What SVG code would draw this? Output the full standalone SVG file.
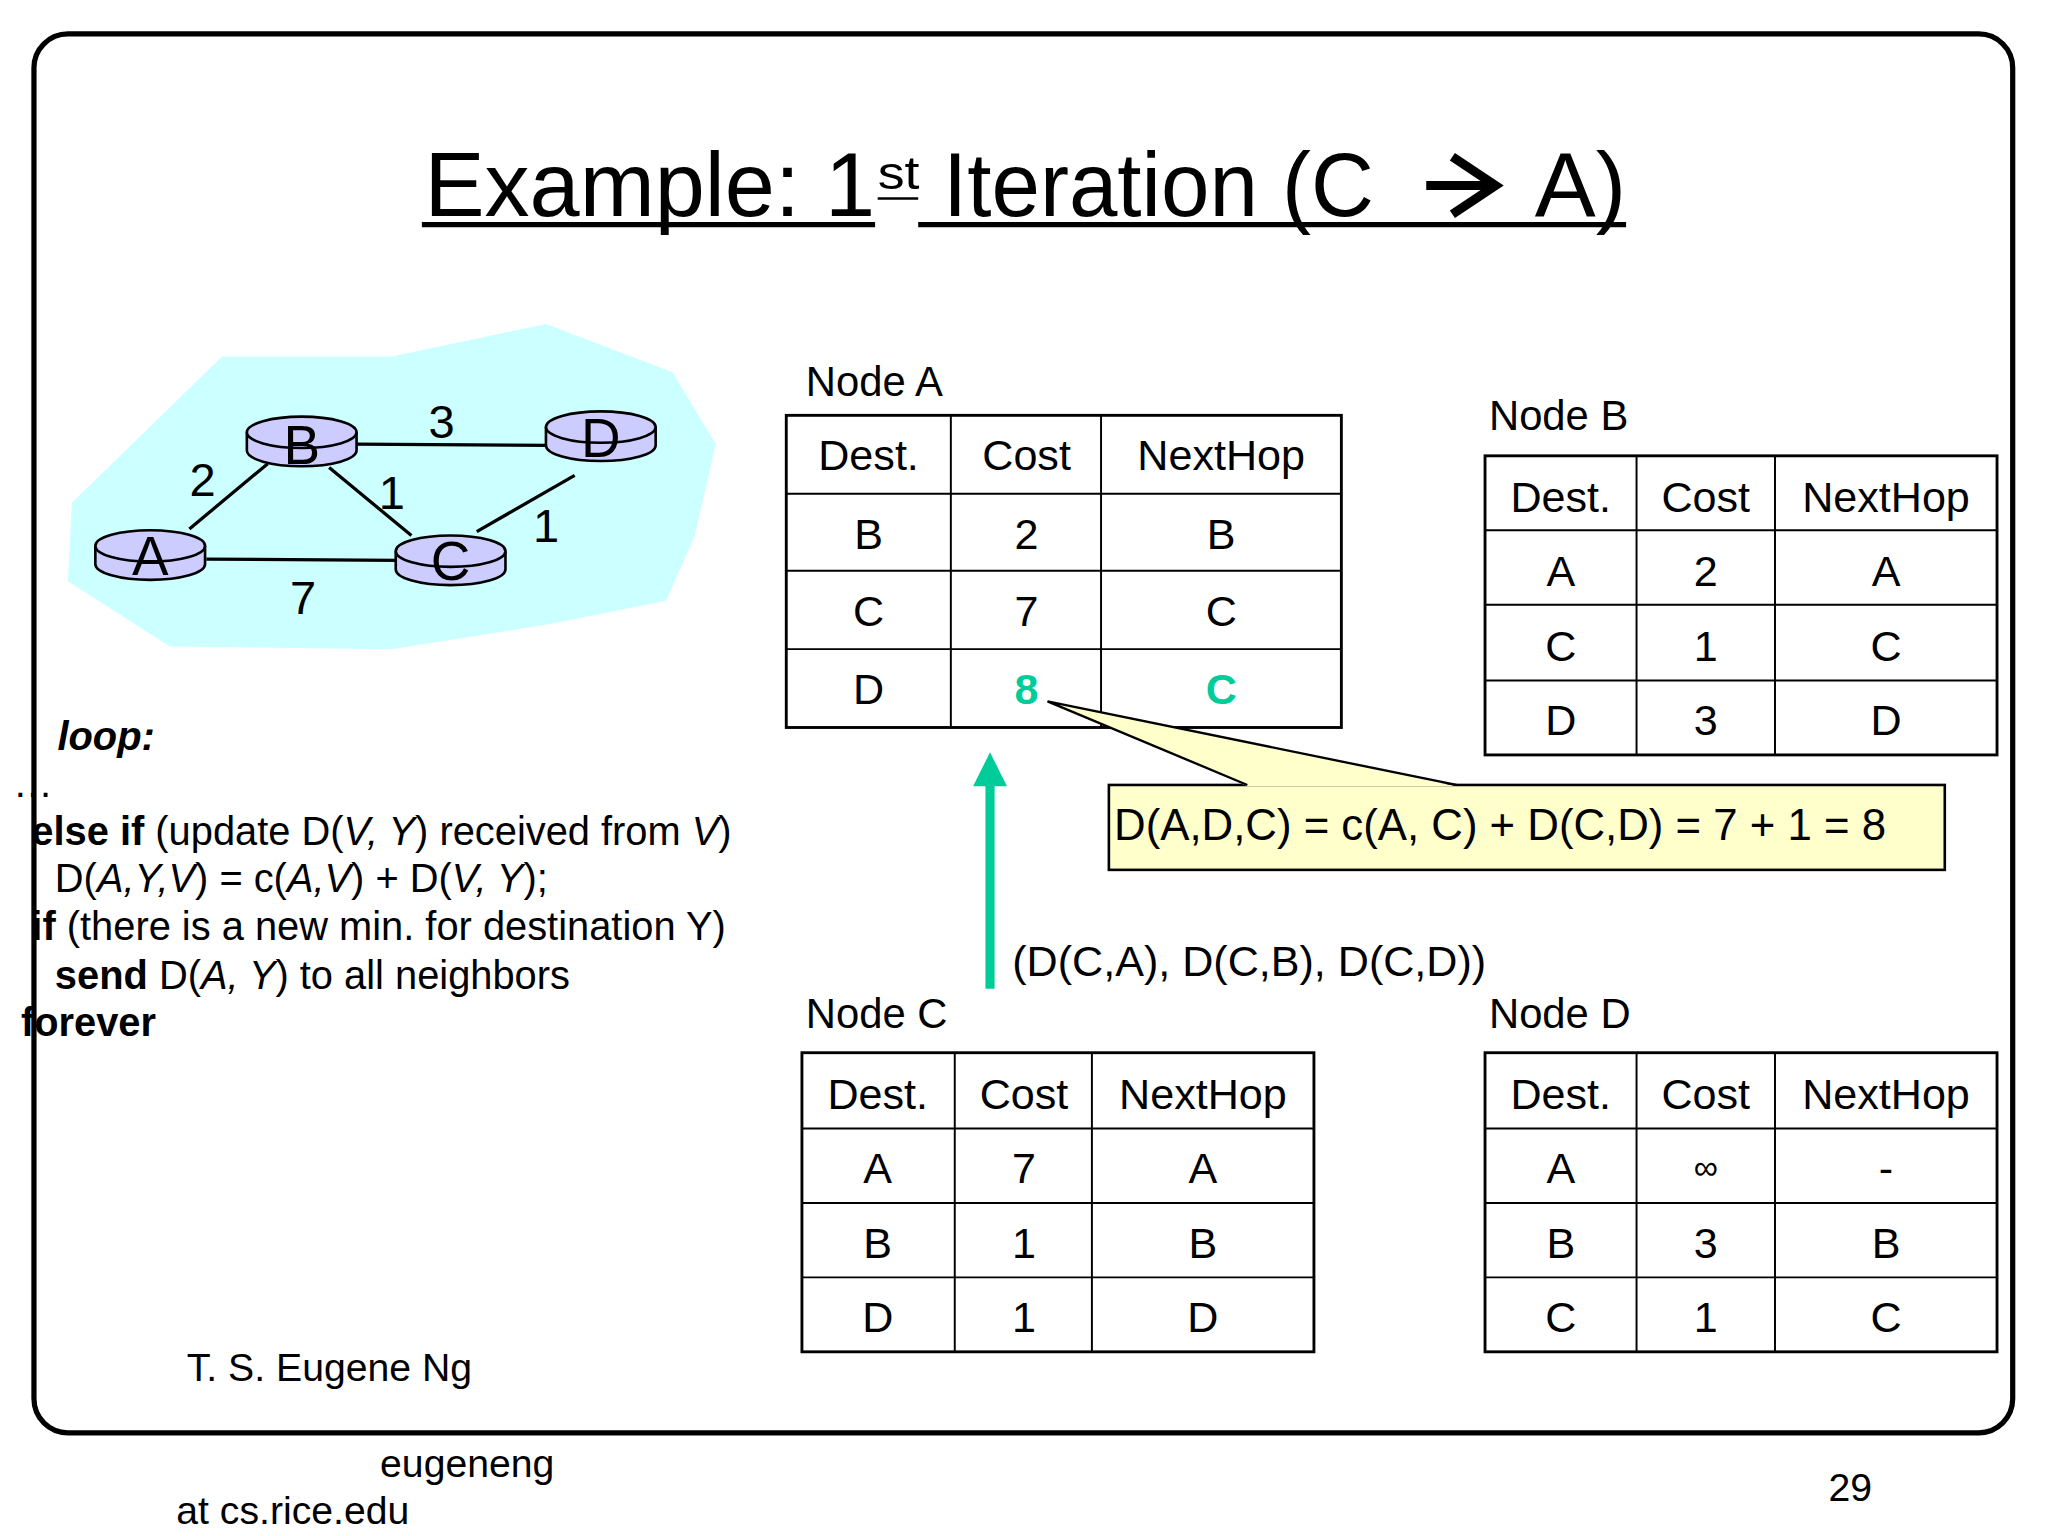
<svg xmlns="http://www.w3.org/2000/svg" width="2048" height="1536" viewBox="0 0 2048 1536">
<style>
text{font-family:"Liberation Sans",Arial,sans-serif;fill:#000}
.t{font-size:33px;text-anchor:middle}
.tb{fill:none;stroke:#000;stroke-width:2.2}
.ln{stroke:#000;stroke-width:1.5}
.e{stroke:#000;stroke-width:2.5}
.rt{fill:#ccccff;stroke:#000;stroke-width:2}
.code{font-size:30.5px}
</style>
<rect width="2048" height="1536" fill="#fff"/>
<g transform="scale(1.3061)">
<rect x="26" y="26" width="1515" height="1071" rx="26" fill="none" stroke="#000" stroke-width="4"/>
<g id="title">
<text x="325" y="165" font-size="70" textLength="345" lengthAdjust="spacingAndGlyphs">Example: 1</text>
<text x="672" y="145" font-size="36" textLength="32" lengthAdjust="spacingAndGlyphs">st</text>
<text x="722" y="165" font-size="70" textLength="330" lengthAdjust="spacingAndGlyphs">Iteration (C</text>
<text x="1175" y="165" font-size="70" textLength="70" lengthAdjust="spacingAndGlyphs">A)</text>
<path d="M1112 120 L1145 142 L1112 164 M1092 142 L1142 142" fill="none" stroke="#000" stroke-width="7"/>
<line x1="323" y1="172" x2="670" y2="172" stroke="#000" stroke-width="4"/>
<line x1="672" y1="152" x2="703" y2="152" stroke="#000" stroke-width="2"/>
<line x1="703" y1="172" x2="1245" y2="172" stroke="#000" stroke-width="4"/>
</g>
<g id="network">
<polygon points="170,273 300,273 418,248 515,285 548,340 532,410 510,460 420,478 300,497 130,495 52,445 55,385" fill="#ccffff"/>
<g id="connectors">
<line class="e" x1="145" y1="405" x2="205" y2="355"/>
<line class="e" x1="272" y1="340" x2="420" y2="341"/>
<line class="e" x1="252" y1="358" x2="315" y2="410"/>
<line class="e" x1="365" y1="407" x2="440" y2="364"/>
<line class="e" x1="158" y1="428" x2="305" y2="429"/>
</g>
<g font-size="36"><text x="145" y="380">2</text><text x="328" y="335">3</text><text x="290" y="390">1</text><text x="408" y="415">1</text><text x="222" y="470">7</text></g>
<g id="rA"><path class="rt" d="M73 418 v14 a42 12 0 0 0 84 0 v-14"/><ellipse class="rt" cx="115" cy="418" rx="42" ry="12"/><text x="115" y="440" font-size="42" text-anchor="middle">A</text></g>
<g id="rB"><path class="rt" d="M189 331 v14 a42 12 0 0 0 84 0 v-14"/><ellipse class="rt" cx="231" cy="331" rx="42" ry="12"/><text x="231" y="355" font-size="42" text-anchor="middle">B</text></g>
<g id="rC"><path class="rt" d="M303 422 v14 a42 12 0 0 0 84 0 v-14"/><ellipse class="rt" cx="345" cy="422" rx="42" ry="12"/><text x="345" y="444" font-size="42" text-anchor="middle">C</text></g>
<g id="rD"><path class="rt" d="M418 327 v14 a42 12 0 0 0 84 0 v-14"/><ellipse class="rt" cx="460" cy="327" rx="42" ry="12"/><text x="460" y="350" font-size="42" text-anchor="middle">D</text></g>
</g>
<g id="code" class="code">
<text x="44" y="574" font-weight="bold" font-style="italic">loop:</text>
<text x="10" y="610">…</text>
<text x="24" y="647"><tspan font-weight="bold">else if</tspan> (update D(<tspan font-style="italic">V,  Y</tspan>) received from <tspan font-style="italic">V</tspan>)</text>
<text x="42" y="683">D(<tspan font-style="italic">A,Y,V</tspan>) = c(<tspan font-style="italic">A,V</tspan>) + D(<tspan font-style="italic">V,  Y</tspan>);</text>
<text x="24" y="720"><tspan font-weight="bold">if</tspan> (there is a new min. for destination Y)</text>
<text x="42" y="757"><tspan font-weight="bold">send</tspan> D(<tspan font-style="italic">A,  Y</tspan>) to all neighbors</text>
<text x="16" y="793" font-weight="bold">forever</text>
</g>
<g id="nodeA">
<text x="617" y="303" font-size="32">Node A</text>
<rect class="tb" x="602" y="318" width="425" height="239"/>
<path class="ln" d="M728 318V557M843 318V557M602 378H1027M602 437H1027M602 497H1027"/>
<g class="t"><text x="665" y="360">Dest.</text><text x="786" y="360">Cost</text><text x="935" y="360">NextHop</text>
<text x="665" y="420">B</text><text x="786" y="420">2</text><text x="935" y="420">B</text>
<text x="665" y="479">C</text><text x="786" y="479">7</text><text x="935" y="479">C</text>
<text x="665" y="539">D</text><text x="786" y="539" font-weight="bold" style="fill:#00cc99">8</text><text x="935" y="539" font-weight="bold" style="fill:#00cc99">C</text></g>
</g>
<g id="nodeB">
<text x="1140" y="329" font-size="32">Node B</text>
<rect class="tb" x="1137" y="349" width="392" height="229"/>
<path class="ln" d="M1253 349V578M1359 349V578M1137 406H1529M1137 463H1529M1137 521H1529"/>
<g class="t"><text x="1195" y="392">Dest.</text><text x="1306" y="392">Cost</text><text x="1444" y="392">NextHop</text>
<text x="1195" y="449">A</text><text x="1306" y="449">2</text><text x="1444" y="449">A</text>
<text x="1195" y="506">C</text><text x="1306" y="506">1</text><text x="1444" y="506">C</text>
<text x="1195" y="563">D</text><text x="1306" y="563">3</text><text x="1444" y="563">D</text></g>
</g>
<g id="nodeC">
<text x="617" y="787" font-size="32">Node C</text>
<rect class="tb" x="614" y="806" width="392" height="229"/>
<path class="ln" d="M731 806V1035M836 806V1035M614 864H1006M614 921H1006M614 978H1006"/>
<g class="t"><text x="672" y="849">Dest.</text><text x="784" y="849">Cost</text><text x="921" y="849">NextHop</text>
<text x="672" y="906">A</text><text x="784" y="906">7</text><text x="921" y="906">A</text>
<text x="672" y="963">B</text><text x="784" y="963">1</text><text x="921" y="963">B</text>
<text x="672" y="1020">D</text><text x="784" y="1020">1</text><text x="921" y="1020">D</text></g>
</g>
<g id="nodeD">
<text x="1140" y="787" font-size="32">Node D</text>
<rect class="tb" x="1137" y="806" width="392" height="229"/>
<path class="ln" d="M1253 806V1035M1359 806V1035M1137 864H1529M1137 921H1529M1137 978H1529"/>
<g class="t"><text x="1195" y="849">Dest.</text><text x="1306" y="849">Cost</text><text x="1444" y="849">NextHop</text>
<text x="1195" y="906">A</text><text x="1306" y="903" font-size="26">∞</text><text x="1444" y="906">-</text>
<text x="1195" y="963">B</text><text x="1306" y="963">3</text><text x="1444" y="963">B</text>
<text x="1195" y="1020">C</text><text x="1306" y="1020">1</text><text x="1444" y="1020">C</text></g>
</g>
<g id="callout">
<rect x="849" y="601" width="640" height="65" fill="#ffffcc" stroke="#000" stroke-width="2"/>
<polygon points="802,537 955,602 1115,602" fill="#ffffcc"/>
<polyline points="955,601 802,537 1115,601" fill="none" stroke="#000" stroke-width="1.8"/>
<text x="853" y="643" font-size="33.5">D(A,D,C) = c(A, C) + D(C,D) = 7 + 1 = 8</text>
</g>
<g id="arrow">
<line x1="758" y1="757" x2="758" y2="600" stroke="#00cc99" stroke-width="7"/>
<polygon points="745,602 758,576 771,602" fill="#00cc99"/>
<text x="775" y="747" font-size="33">(D(C,A), D(C,B), D(C,D))</text>
</g>
<g id="footer" font-size="30">
<text x="143" y="1057">T. S. Eugene Ng</text>
<text x="291" y="1131">eugeneng</text>
<text x="135" y="1167">at cs.rice.edu</text>
<text x="1400" y="1149">29</text>
</g>
</g>
</svg>
